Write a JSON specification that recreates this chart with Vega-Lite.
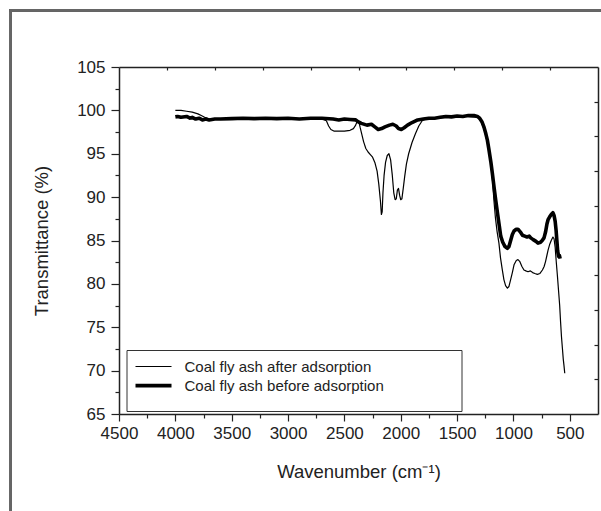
{
  "$schema": "https://vega.github.io/schema/vega-lite/v6.json",
  "width": 479,
  "height": 347,
  "autosize": {"type": "none"},
  "padding": {"left": 119, "top": 67, "right": 3, "bottom": 97},
  "background": "white",
  "config": {
    "font": "Liberation Sans",
    "view": {"stroke": null},
    "axis": {"domainColor": "#222", "domainWidth": 1.5, "tickColor": "#222", "tickWidth": 1.2, "grid": false, "labelColor": "#222", "titleColor": "#222", "labelFont": "Liberation Sans", "titleFont": "Liberation Sans", "titleFontWeight": "normal"}
  },
  "datasets": {
    "spectra": [
      {"wn": 4000, "t": 99.25, "series": "Coal fly ash before adsorption"},
      {"wn": 3980, "t": 99.3, "series": "Coal fly ash before adsorption"},
      {"wn": 3950, "t": 99.2, "series": "Coal fly ash before adsorption"},
      {"wn": 3900, "t": 99.3, "series": "Coal fly ash before adsorption"},
      {"wn": 3870, "t": 99.1, "series": "Coal fly ash before adsorption"},
      {"wn": 3850, "t": 99.2, "series": "Coal fly ash before adsorption"},
      {"wn": 3820, "t": 99.0, "series": "Coal fly ash before adsorption"},
      {"wn": 3790, "t": 99.1, "series": "Coal fly ash before adsorption"},
      {"wn": 3760, "t": 98.9, "series": "Coal fly ash before adsorption"},
      {"wn": 3730, "t": 99.0, "series": "Coal fly ash before adsorption"},
      {"wn": 3700, "t": 98.9, "series": "Coal fly ash before adsorption"},
      {"wn": 3650, "t": 99.0, "series": "Coal fly ash before adsorption"},
      {"wn": 3600, "t": 99.0, "series": "Coal fly ash before adsorption"},
      {"wn": 3500, "t": 99.05, "series": "Coal fly ash before adsorption"},
      {"wn": 3400, "t": 99.1, "series": "Coal fly ash before adsorption"},
      {"wn": 3300, "t": 99.05, "series": "Coal fly ash before adsorption"},
      {"wn": 3200, "t": 99.1, "series": "Coal fly ash before adsorption"},
      {"wn": 3100, "t": 99.05, "series": "Coal fly ash before adsorption"},
      {"wn": 3000, "t": 99.1, "series": "Coal fly ash before adsorption"},
      {"wn": 2900, "t": 99.0, "series": "Coal fly ash before adsorption"},
      {"wn": 2800, "t": 99.1, "series": "Coal fly ash before adsorption"},
      {"wn": 2700, "t": 99.1, "series": "Coal fly ash before adsorption"},
      {"wn": 2600, "t": 99.0, "series": "Coal fly ash before adsorption"},
      {"wn": 2550, "t": 98.9, "series": "Coal fly ash before adsorption"},
      {"wn": 2500, "t": 99.0, "series": "Coal fly ash before adsorption"},
      {"wn": 2450, "t": 98.95, "series": "Coal fly ash before adsorption"},
      {"wn": 2400, "t": 98.9, "series": "Coal fly ash before adsorption"},
      {"wn": 2380, "t": 98.7, "series": "Coal fly ash before adsorption"},
      {"wn": 2350, "t": 98.5, "series": "Coal fly ash before adsorption"},
      {"wn": 2300, "t": 98.3, "series": "Coal fly ash before adsorption"},
      {"wn": 2260, "t": 98.4, "series": "Coal fly ash before adsorption"},
      {"wn": 2230, "t": 98.1, "series": "Coal fly ash before adsorption"},
      {"wn": 2200, "t": 97.8, "series": "Coal fly ash before adsorption"},
      {"wn": 2170, "t": 97.9, "series": "Coal fly ash before adsorption"},
      {"wn": 2140, "t": 98.1, "series": "Coal fly ash before adsorption"},
      {"wn": 2100, "t": 98.3, "series": "Coal fly ash before adsorption"},
      {"wn": 2070, "t": 98.4, "series": "Coal fly ash before adsorption"},
      {"wn": 2040, "t": 98.2, "series": "Coal fly ash before adsorption"},
      {"wn": 2020, "t": 97.9, "series": "Coal fly ash before adsorption"},
      {"wn": 1995, "t": 97.8, "series": "Coal fly ash before adsorption"},
      {"wn": 1970, "t": 98.0, "series": "Coal fly ash before adsorption"},
      {"wn": 1940, "t": 98.3, "series": "Coal fly ash before adsorption"},
      {"wn": 1900, "t": 98.6, "series": "Coal fly ash before adsorption"},
      {"wn": 1850, "t": 98.9, "series": "Coal fly ash before adsorption"},
      {"wn": 1800, "t": 99.0, "series": "Coal fly ash before adsorption"},
      {"wn": 1750, "t": 99.1, "series": "Coal fly ash before adsorption"},
      {"wn": 1700, "t": 99.1, "series": "Coal fly ash before adsorption"},
      {"wn": 1650, "t": 99.2, "series": "Coal fly ash before adsorption"},
      {"wn": 1600, "t": 99.3, "series": "Coal fly ash before adsorption"},
      {"wn": 1550, "t": 99.25, "series": "Coal fly ash before adsorption"},
      {"wn": 1500, "t": 99.35, "series": "Coal fly ash before adsorption"},
      {"wn": 1450, "t": 99.3, "series": "Coal fly ash before adsorption"},
      {"wn": 1400, "t": 99.4, "series": "Coal fly ash before adsorption"},
      {"wn": 1350, "t": 99.4, "series": "Coal fly ash before adsorption"},
      {"wn": 1320, "t": 99.3, "series": "Coal fly ash before adsorption"},
      {"wn": 1300, "t": 99.1, "series": "Coal fly ash before adsorption"},
      {"wn": 1280, "t": 98.7, "series": "Coal fly ash before adsorption"},
      {"wn": 1260, "t": 98.0, "series": "Coal fly ash before adsorption"},
      {"wn": 1245, "t": 97.3, "series": "Coal fly ash before adsorption"},
      {"wn": 1232, "t": 96.6, "series": "Coal fly ash before adsorption"},
      {"wn": 1218, "t": 95.5, "series": "Coal fly ash before adsorption"},
      {"wn": 1200, "t": 94.0, "series": "Coal fly ash before adsorption"},
      {"wn": 1188, "t": 92.8, "series": "Coal fly ash before adsorption"},
      {"wn": 1170, "t": 90.9, "series": "Coal fly ash before adsorption"},
      {"wn": 1158, "t": 89.7, "series": "Coal fly ash before adsorption"},
      {"wn": 1140, "t": 88.0, "series": "Coal fly ash before adsorption"},
      {"wn": 1125, "t": 86.6, "series": "Coal fly ash before adsorption"},
      {"wn": 1113, "t": 85.5, "series": "Coal fly ash before adsorption"},
      {"wn": 1095, "t": 84.8, "series": "Coal fly ash before adsorption"},
      {"wn": 1075, "t": 84.3, "series": "Coal fly ash before adsorption"},
      {"wn": 1054, "t": 84.1, "series": "Coal fly ash before adsorption"},
      {"wn": 1040, "t": 84.3, "series": "Coal fly ash before adsorption"},
      {"wn": 1025, "t": 85.0, "series": "Coal fly ash before adsorption"},
      {"wn": 1010, "t": 85.7, "series": "Coal fly ash before adsorption"},
      {"wn": 995, "t": 86.1, "series": "Coal fly ash before adsorption"},
      {"wn": 975, "t": 86.3, "series": "Coal fly ash before adsorption"},
      {"wn": 960, "t": 86.3, "series": "Coal fly ash before adsorption"},
      {"wn": 940, "t": 86.0, "series": "Coal fly ash before adsorption"},
      {"wn": 920, "t": 85.6, "series": "Coal fly ash before adsorption"},
      {"wn": 900, "t": 85.5, "series": "Coal fly ash before adsorption"},
      {"wn": 880, "t": 85.4, "series": "Coal fly ash before adsorption"},
      {"wn": 860, "t": 85.5, "series": "Coal fly ash before adsorption"},
      {"wn": 847, "t": 85.3, "series": "Coal fly ash before adsorption"},
      {"wn": 825, "t": 85.1, "series": "Coal fly ash before adsorption"},
      {"wn": 800, "t": 84.9, "series": "Coal fly ash before adsorption"},
      {"wn": 782, "t": 84.7, "series": "Coal fly ash before adsorption"},
      {"wn": 760, "t": 84.8, "series": "Coal fly ash before adsorption"},
      {"wn": 745, "t": 85.0, "series": "Coal fly ash before adsorption"},
      {"wn": 729, "t": 85.3, "series": "Coal fly ash before adsorption"},
      {"wn": 715, "t": 86.0, "series": "Coal fly ash before adsorption"},
      {"wn": 703, "t": 86.9, "series": "Coal fly ash before adsorption"},
      {"wn": 693, "t": 87.4, "series": "Coal fly ash before adsorption"},
      {"wn": 680, "t": 87.7, "series": "Coal fly ash before adsorption"},
      {"wn": 665, "t": 88.0, "series": "Coal fly ash before adsorption"},
      {"wn": 650, "t": 88.2, "series": "Coal fly ash before adsorption"},
      {"wn": 640, "t": 87.9, "series": "Coal fly ash before adsorption"},
      {"wn": 630, "t": 87.2, "series": "Coal fly ash before adsorption"},
      {"wn": 622, "t": 86.2, "series": "Coal fly ash before adsorption"},
      {"wn": 615, "t": 85.0, "series": "Coal fly ash before adsorption"},
      {"wn": 608, "t": 83.8, "series": "Coal fly ash before adsorption"},
      {"wn": 600, "t": 83.2, "series": "Coal fly ash before adsorption"},
      {"wn": 593, "t": 83.3, "series": "Coal fly ash before adsorption"},
      {"wn": 586, "t": 82.9, "series": "Coal fly ash before adsorption"},
      {"wn": 4000, "t": 100.0, "series": "Coal fly ash after adsorption"},
      {"wn": 3950, "t": 100.0, "series": "Coal fly ash after adsorption"},
      {"wn": 3900, "t": 99.9, "series": "Coal fly ash after adsorption"},
      {"wn": 3850, "t": 99.8, "series": "Coal fly ash after adsorption"},
      {"wn": 3800, "t": 99.6, "series": "Coal fly ash after adsorption"},
      {"wn": 3770, "t": 99.4, "series": "Coal fly ash after adsorption"},
      {"wn": 3740, "t": 99.2, "series": "Coal fly ash after adsorption"},
      {"wn": 3700, "t": 99.0, "series": "Coal fly ash after adsorption"},
      {"wn": 3600, "t": 99.0, "series": "Coal fly ash after adsorption"},
      {"wn": 3400, "t": 99.05, "series": "Coal fly ash after adsorption"},
      {"wn": 3200, "t": 99.05, "series": "Coal fly ash after adsorption"},
      {"wn": 3000, "t": 99.05, "series": "Coal fly ash after adsorption"},
      {"wn": 2800, "t": 99.05, "series": "Coal fly ash after adsorption"},
      {"wn": 2700, "t": 99.0, "series": "Coal fly ash after adsorption"},
      {"wn": 2660, "t": 98.8, "series": "Coal fly ash after adsorption"},
      {"wn": 2640, "t": 98.2, "series": "Coal fly ash after adsorption"},
      {"wn": 2620, "t": 97.8, "series": "Coal fly ash after adsorption"},
      {"wn": 2590, "t": 97.6, "series": "Coal fly ash after adsorption"},
      {"wn": 2550, "t": 97.6, "series": "Coal fly ash after adsorption"},
      {"wn": 2500, "t": 97.6, "series": "Coal fly ash after adsorption"},
      {"wn": 2450, "t": 97.7, "series": "Coal fly ash after adsorption"},
      {"wn": 2420, "t": 97.9, "series": "Coal fly ash after adsorption"},
      {"wn": 2400, "t": 98.3, "series": "Coal fly ash after adsorption"},
      {"wn": 2385, "t": 98.8, "series": "Coal fly ash after adsorption"},
      {"wn": 2370, "t": 98.6, "series": "Coal fly ash after adsorption"},
      {"wn": 2360, "t": 98.0, "series": "Coal fly ash after adsorption"},
      {"wn": 2345, "t": 97.2, "series": "Coal fly ash after adsorption"},
      {"wn": 2330, "t": 96.4, "series": "Coal fly ash after adsorption"},
      {"wn": 2310, "t": 95.6, "series": "Coal fly ash after adsorption"},
      {"wn": 2290, "t": 95.2, "series": "Coal fly ash after adsorption"},
      {"wn": 2270, "t": 94.9, "series": "Coal fly ash after adsorption"},
      {"wn": 2250, "t": 94.6, "series": "Coal fly ash after adsorption"},
      {"wn": 2230, "t": 94.0, "series": "Coal fly ash after adsorption"},
      {"wn": 2210, "t": 93.0, "series": "Coal fly ash after adsorption"},
      {"wn": 2195, "t": 91.5, "series": "Coal fly ash after adsorption"},
      {"wn": 2180, "t": 89.5, "series": "Coal fly ash after adsorption"},
      {"wn": 2172, "t": 88.0, "series": "Coal fly ash after adsorption"},
      {"wn": 2165, "t": 88.3, "series": "Coal fly ash after adsorption"},
      {"wn": 2158, "t": 90.5, "series": "Coal fly ash after adsorption"},
      {"wn": 2148, "t": 92.5, "series": "Coal fly ash after adsorption"},
      {"wn": 2135, "t": 94.0, "series": "Coal fly ash after adsorption"},
      {"wn": 2120, "t": 94.8, "series": "Coal fly ash after adsorption"},
      {"wn": 2105, "t": 95.0, "series": "Coal fly ash after adsorption"},
      {"wn": 2090, "t": 94.3, "series": "Coal fly ash after adsorption"},
      {"wn": 2075, "t": 92.5, "series": "Coal fly ash after adsorption"},
      {"wn": 2062, "t": 90.5, "series": "Coal fly ash after adsorption"},
      {"wn": 2050, "t": 89.7, "series": "Coal fly ash after adsorption"},
      {"wn": 2040, "t": 89.8, "series": "Coal fly ash after adsorption"},
      {"wn": 2030, "t": 90.8, "series": "Coal fly ash after adsorption"},
      {"wn": 2020, "t": 91.0, "series": "Coal fly ash after adsorption"},
      {"wn": 2010, "t": 90.2, "series": "Coal fly ash after adsorption"},
      {"wn": 2000, "t": 89.7, "series": "Coal fly ash after adsorption"},
      {"wn": 1990, "t": 89.8, "series": "Coal fly ash after adsorption"},
      {"wn": 1978, "t": 91.0, "series": "Coal fly ash after adsorption"},
      {"wn": 1965, "t": 92.4, "series": "Coal fly ash after adsorption"},
      {"wn": 1950, "t": 93.8, "series": "Coal fly ash after adsorption"},
      {"wn": 1930, "t": 95.0, "series": "Coal fly ash after adsorption"},
      {"wn": 1900, "t": 96.3, "series": "Coal fly ash after adsorption"},
      {"wn": 1870, "t": 97.3, "series": "Coal fly ash after adsorption"},
      {"wn": 1840, "t": 98.2, "series": "Coal fly ash after adsorption"},
      {"wn": 1810, "t": 98.8, "series": "Coal fly ash after adsorption"},
      {"wn": 1780, "t": 99.0, "series": "Coal fly ash after adsorption"},
      {"wn": 1700, "t": 99.1, "series": "Coal fly ash after adsorption"},
      {"wn": 1600, "t": 99.2, "series": "Coal fly ash after adsorption"},
      {"wn": 1500, "t": 99.3, "series": "Coal fly ash after adsorption"},
      {"wn": 1400, "t": 99.3, "series": "Coal fly ash after adsorption"},
      {"wn": 1320, "t": 99.2, "series": "Coal fly ash after adsorption"},
      {"wn": 1290, "t": 98.8, "series": "Coal fly ash after adsorption"},
      {"wn": 1260, "t": 97.8, "series": "Coal fly ash after adsorption"},
      {"wn": 1230, "t": 96.2, "series": "Coal fly ash after adsorption"},
      {"wn": 1200, "t": 93.8, "series": "Coal fly ash after adsorption"},
      {"wn": 1185, "t": 91.8, "series": "Coal fly ash after adsorption"},
      {"wn": 1174, "t": 89.7, "series": "Coal fly ash after adsorption"},
      {"wn": 1160, "t": 87.6, "series": "Coal fly ash after adsorption"},
      {"wn": 1145, "t": 86.0, "series": "Coal fly ash after adsorption"},
      {"wn": 1129, "t": 84.7, "series": "Coal fly ash after adsorption"},
      {"wn": 1115, "t": 83.0, "series": "Coal fly ash after adsorption"},
      {"wn": 1100, "t": 81.7, "series": "Coal fly ash after adsorption"},
      {"wn": 1085, "t": 80.5, "series": "Coal fly ash after adsorption"},
      {"wn": 1070, "t": 79.8, "series": "Coal fly ash after adsorption"},
      {"wn": 1054, "t": 79.5, "series": "Coal fly ash after adsorption"},
      {"wn": 1040, "t": 79.7, "series": "Coal fly ash after adsorption"},
      {"wn": 1025, "t": 80.5, "series": "Coal fly ash after adsorption"},
      {"wn": 1010, "t": 81.3, "series": "Coal fly ash after adsorption"},
      {"wn": 995, "t": 82.2, "series": "Coal fly ash after adsorption"},
      {"wn": 975, "t": 82.7, "series": "Coal fly ash after adsorption"},
      {"wn": 960, "t": 82.8, "series": "Coal fly ash after adsorption"},
      {"wn": 945, "t": 82.6, "series": "Coal fly ash after adsorption"},
      {"wn": 925, "t": 82.0, "series": "Coal fly ash after adsorption"},
      {"wn": 907, "t": 81.6, "series": "Coal fly ash after adsorption"},
      {"wn": 890, "t": 81.5, "series": "Coal fly ash after adsorption"},
      {"wn": 871, "t": 81.4, "series": "Coal fly ash after adsorption"},
      {"wn": 850, "t": 81.5, "series": "Coal fly ash after adsorption"},
      {"wn": 830, "t": 81.3, "series": "Coal fly ash after adsorption"},
      {"wn": 810, "t": 81.2, "series": "Coal fly ash after adsorption"},
      {"wn": 788, "t": 81.1, "series": "Coal fly ash after adsorption"},
      {"wn": 765, "t": 81.2, "series": "Coal fly ash after adsorption"},
      {"wn": 743, "t": 81.6, "series": "Coal fly ash after adsorption"},
      {"wn": 728, "t": 82.0, "series": "Coal fly ash after adsorption"},
      {"wn": 715, "t": 82.6, "series": "Coal fly ash after adsorption"},
      {"wn": 703, "t": 83.3, "series": "Coal fly ash after adsorption"},
      {"wn": 693, "t": 83.9, "series": "Coal fly ash after adsorption"},
      {"wn": 680, "t": 84.5, "series": "Coal fly ash after adsorption"},
      {"wn": 665, "t": 85.0, "series": "Coal fly ash after adsorption"},
      {"wn": 650, "t": 85.4, "series": "Coal fly ash after adsorption"},
      {"wn": 640, "t": 85.2, "series": "Coal fly ash after adsorption"},
      {"wn": 630, "t": 84.2, "series": "Coal fly ash after adsorption"},
      {"wn": 620, "t": 82.5, "series": "Coal fly ash after adsorption"},
      {"wn": 610, "t": 80.9, "series": "Coal fly ash after adsorption"},
      {"wn": 600, "t": 79.2, "series": "Coal fly ash after adsorption"},
      {"wn": 590, "t": 77.5, "series": "Coal fly ash after adsorption"},
      {"wn": 582, "t": 75.6, "series": "Coal fly ash after adsorption"},
      {"wn": 574, "t": 73.9, "series": "Coal fly ash after adsorption"},
      {"wn": 566, "t": 72.6, "series": "Coal fly ash after adsorption"},
      {"wn": 558, "t": 71.3, "series": "Coal fly ash after adsorption"},
      {"wn": 552, "t": 70.6, "series": "Coal fly ash after adsorption"},
      {"wn": 545, "t": 69.7, "series": "Coal fly ash after adsorption"}
    ]
  },
  "data": {"name": "spectra"},
  "resolve": {"axis": {"x": "independent", "y": "independent"}},
  "layer": [
    {
      "mark": {"type": "rect", "filled": false, "stroke": "#666", "strokeWidth": 2, "clip": false},
      "encoding": {
        "x": {"datum": 5459, "type": "quantitative",
          "scale": {"domain": [250, 4500], "reverse": true, "nice": false, "zero": false},
          "axis": {"orient": "bottom", "values": [4500, 4000, 3500, 3000, 2500, 2000, 1500, 1000, 500], "tickSize": 7, "labelPadding": 4, "labelFontSize": 17, "labelFlush": false, "title": "Wavenumber (cm⁻¹)", "titleFontSize": 18.5, "titlePadding": 21, "format": "d"}},
        "x2": {"datum": -1000},
        "y": {"datum": 111.55, "type": "quantitative",
          "scale": {"domain": [65, 105], "nice": false, "zero": false},
          "axis": {"orient": "left", "values": [65, 70, 75, 80, 85, 90, 95, 100, 105], "tickSize": 8, "labelPadding": 6, "labelFontSize": 17, "labelFlush": false, "title": "Transmittance (%)", "titleFontSize": 18.5, "titlePadding": 25}},
        "y2": {"datum": 40}
      }
    },
    {
      "transform": [{"filter": "datum.series === 'Coal fly ash before adsorption'"}],
      "mark": {"type": "line", "color": "black", "strokeJoin": "round", "clip": true},
      "encoding": {
        "x": {"field": "wn", "type": "quantitative",
          "axis": {"orient": "bottom", "values": [4250, 3750, 3250, 2750, 2250, 1750, 1250, 750], "tickSize": 4, "labels": false, "domain": false, "title": null}},
        "y": {"field": "t", "type": "quantitative",
          "axis": {"orient": "left", "values": [67.5, 72.5, 77.5, 82.5, 87.5, 92.5, 97.5, 102.5], "tickSize": 4, "labels": false, "domain": false, "title": null}},
        "order": {"field": "wn", "sort": "descending"},
        "strokeWidth": {"field": "series", "type": "nominal",
          "scale": {"domain": ["Coal fly ash after adsorption", "Coal fly ash before adsorption"], "range": [1.2, 3.6]},
          "legend": {"orient": "none", "legendX": 7.5, "legendY": 283, "title": ".", "titleOrient": "right", "titleAnchor": "start", "titleBaseline": "top", "titleColor": "white", "titleFontSize": 43, "titlePadding": 57, "padding": 9, "strokeColor": "#333", "symbolType": "M-3,0H3", "symbolSize": 144, "symbolOffset": 10, "symbolFillColor": "transparent", "symbolStrokeColor": "black", "labelFontSize": 15, "labelColor": "#222", "labelOffset": 23, "labelLimit": 400, "rowPadding": 2.6}}
      }
    },
    {
      "transform": [{"filter": "datum.series === 'Coal fly ash after adsorption'"}],
      "mark": {"type": "line", "color": "black", "strokeJoin": "round", "clip": true},
      "encoding": {
        "x": {"field": "wn", "type": "quantitative",
          "axis": {"orient": "top", "values": [4075, 3650, 3225, 2800, 2375, 1950, 1525, 1100, 675], "tickSize": -3, "labels": false, "domain": true, "title": null}},
        "y": {"field": "t", "type": "quantitative",
          "axis": {"orient": "right", "values": [101, 97, 93, 89, 85, 81, 77, 73, 69], "tickSize": -4, "labels": false, "domain": true, "title": null}},
        "order": {"field": "wn", "sort": "descending"},
        "strokeWidth": {"field": "series", "type": "nominal",
          "scale": {"domain": ["Coal fly ash after adsorption", "Coal fly ash before adsorption"], "range": [1.2, 3.6]},
          "legend": {"orient": "none", "legendX": 7.5, "legendY": 283, "title": ".", "titleOrient": "right", "titleAnchor": "start", "titleBaseline": "top", "titleColor": "white", "titleFontSize": 43, "titlePadding": 57, "padding": 9, "strokeColor": "#333", "symbolType": "M-3,0H3", "symbolSize": 144, "symbolOffset": 10, "symbolFillColor": "transparent", "symbolStrokeColor": "black", "labelFontSize": 15, "labelColor": "#222", "labelOffset": 23, "labelLimit": 400, "rowPadding": 2.6}}
      }
    }
  ]
}
